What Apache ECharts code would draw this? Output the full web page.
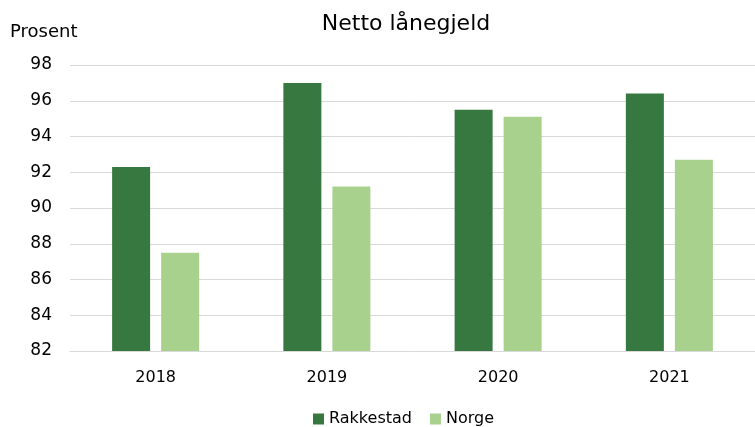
<!DOCTYPE html>
<html>
<head>
<meta charset="utf-8">
<script src="https://cdn.jsdelivr.net/npm/echarts@6/dist/echarts.min.js"></script>
<style>
  html, body { margin: 0; padding: 0; background: #fff; }
  #chart { width: 755px; height: 427px; }
</style>
</head>
<body>
<div id="chart"></div>
<script>
// data
const years = ["2018", "2019", "2020", "2021"];
const rakkestad = [92.3, 97.0, 95.5, 96.4];
const norge = [87.5, 91.2, 95.1, 92.7];

const font = "DejaVu Sans";
const chart = echarts.init(document.getElementById("chart"));

chart.setOption({
  animation: false,
  textStyle: { fontFamily: font },
  title: {
    text: "Netto lånegjeld",
    left: 401,
    top: 8,
    textAlign: "center",
    textStyle: { fontFamily: font, fontSize: 22, fontWeight: "normal", color: "#000" },
  },
  grid: { left: 70, right: 0, top: 65, bottom: 76 },
  legend: {
    bottom: -5,
    left: 308,
    itemWidth: 11,
    itemHeight: 11,
    itemGap: 18,
    icon: "rect",
    textStyle: { fontFamily: font, fontSize: 16, color: "#000" },
    data: ["Rakkestad", "Norge"],
  },
  xAxis: {
    type: "category",
    data: years,
    axisLine: { lineStyle: { color: "#d9d9d9" } },
    axisTick: { show: false },
    axisLabel: { color: "#000", fontSize: 16, margin: 19, fontFamily: font },
  },
  yAxis: {
    type: "value",
    name: "Prosent",
    nameLocation: "end",
    nameGap: 24,
    nameTextStyle: { color: "#000", fontSize: 18, fontFamily: font, align: "left", padding: [0, 0, 0, -60] },
    min: 82,
    max: 98,
    interval: 2,
    axisLine: { show: false },
    axisTick: { show: false },
    axisLabel: { color: "#000", fontSize: 17, margin: 18, fontFamily: font },
    splitLine: { lineStyle: { color: "#d9d9d9" } },
  },
  series: [
    {
      name: "Rakkestad",
      type: "bar",
      data: rakkestad,
      barWidth: 38,
      barGap: "29%",
      itemStyle: { color: "#36783F" },
    },
    {
      name: "Norge",
      type: "bar",
      data: norge,
      barWidth: 38,
      itemStyle: { color: "#A9D18E" },
    },
  ],
});
</script>
</body>
</html>
